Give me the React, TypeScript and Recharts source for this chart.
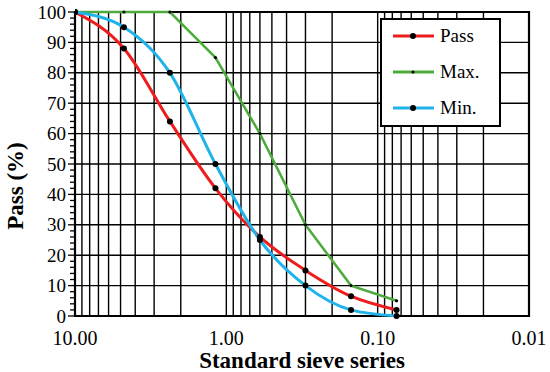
import React from 'react';
import {
  LineChart,
  Line,
  XAxis,
  YAxis,
  CartesianGrid,
  ReferenceArea,
  Legend,
  Label,
} from 'recharts';

// sieve opening (mm) and % passing
const sieveSizes = [10, 4.75, 2.36, 1.18, 0.6, 0.3, 0.15, 0.075];
const passValues = [100, 88, 64, 42, 26, 15, 6.5, 2];
const maxValues = [100, 100, 100, 85, 60, 30, 10, 5];
const minValues = [100, 95, 80, 50, 25, 10, 2, 0];

const decadeTicks = [10, 1, 0.1, 0.01];
const minorMultipliers = [9, 8, 7, 6, 5, 4, 3, 2];
const yTicks = [0, 10, 20, 30, 40, 50, 60, 70, 80, 90, 100];
const yMinorTicks = Array.from({ length: 51 }, (_, i) => i * 2);

const RED = '#ee1d1d';
const GREEN = '#4dab3c';
const CYAN = '#1fb3ea';
const FONT = '"Liberation Serif", "Times New Roman", serif';

const data = sieveSizes.map((size, i) => ({
  size,
  pass: passValues[i],
  max: maxValues[i],
  min: minValues[i],
}));

// every log gridline: decades plus 2..9 inside each decade
const xTicks: number[] = [];
decadeTicks.forEach((d, i) => {
  xTicks.push(d);
  if (i < decadeTicks.length - 1) {
    minorMultipliers.forEach((m) => xTicks.push(+(m * d * 0.1).toPrecision(6)));
  }
});

function isDecade(v: number): boolean {
  const l = Math.log10(v);
  return Math.abs(l - Math.round(l)) < 1e-9;
}

function YTick(props: any) {
  const { x, y, payload } = props;
  const v = payload.value as number;
  const major = v % 10 === 0;
  return (
    <g>
      <line x1={x - (major ? 7 : 5)} x2={x} y1={y} y2={y} stroke="#000" strokeWidth={1.3} />
      {major && (
        <text
          x={x - 9}
          y={y}
          dy="0.35em"
          textAnchor="end"
          fill="#000"
          fontSize={19}
          fontFamily={FONT}
        >
          {v}
        </text>
      )}
    </g>
  );
}

const legendItems = [
  { name: 'Pass', color: RED, r: 3 },
  { name: 'Max.', color: GREEN, r: 1.6 },
  { name: 'Min.', color: CYAN, r: 3 },
];

function LegendBox() {
  return (
    <svg width={121} height={109} style={{ display: 'block' }}>
      <rect x={1} y={1} width={119} height={107} fill="#fff" stroke="#000" strokeWidth={2} />
      {legendItems.map((it, i) => {
        const cy = 18 + i * 36;
        return (
          <g key={it.name}>
            <line x1={13} x2={54} y1={cy} y2={cy} stroke={it.color} strokeWidth={3} />
            <circle cx={33} cy={cy} r={it.r} fill="#000" />
            <text x={60} y={cy} dy="0.3em" fontSize={19} fontFamily={FONT} fill="#000">
              {it.name}
            </text>
          </g>
        );
      })}
    </svg>
  );
}

export default function App() {
  return (
    <div style={{ position: 'absolute', left: 0, top: 0, width: 550, height: 372, background: '#fff' }}>
      <LineChart width={550} height={372} data={data} margin={{ top: 12, right: 21, bottom: 0, left: 0 }}>
        <CartesianGrid stroke="#000" strokeWidth={1.4} horizontalValues={yTicks} />
        <XAxis
          dataKey="size"
          type="number"
          scale="log"
          domain={[0.01, 10]}
          reversed
          allowDataOverflow
          ticks={xTicks}
          interval={0}
          tickFormatter={(v: number) => (isDecade(v) ? v.toFixed(2) : '')}
          tickLine={false}
          axisLine={false}
          tickMargin={9}
          height={56}
          tick={{ fill: '#000', fontSize: 20, fontFamily: FONT }}
        >
          <Label
            value="Standard sieve series"
            position="insideBottom"
            offset={4}
            style={{ fontSize: 23, fontWeight: 'bold', fontFamily: FONT, fill: '#000' }}
          />
        </XAxis>
        <YAxis
          type="number"
          domain={[0, 100]}
          ticks={yMinorTicks}
          interval={0}
          tick={<YTick />}
          tickLine={false}
          tickSize={0}
          tickMargin={0}
          axisLine={false}
          width={75}
        >
          <Label
            content={() => (
              <text
                x={23}
                y={186}
                transform="rotate(-90 23 186)"
                textAnchor="middle"
                fontSize={23}
                fontWeight="bold"
                fontFamily={FONT}
                fill="#000"
              >
                Pass (%)
              </text>
            )}
          />
        </YAxis>
        <ReferenceArea x1={10} x2={0.01} y1={0} y2={100} fill="none" stroke="#000" strokeWidth={2.2} />
        <Line
          type="monotone"
          dataKey="pass"
          stroke={RED}
          strokeWidth={3}
          dot={{ r: 3, fill: '#000', stroke: 'none' }}
          isAnimationActive={false}
        />
        <Line
          type="linear"
          dataKey="max"
          stroke={GREEN}
          strokeWidth={2.5}
          dot={{ r: 1.6, fill: '#000', stroke: 'none' }}
          isAnimationActive={false}
        />
        <Line
          type="monotone"
          dataKey="min"
          stroke={CYAN}
          strokeWidth={3}
          dot={{ r: 3, fill: '#000', stroke: 'none' }}
          isAnimationActive={false}
        />
        <Legend
          layout="vertical"
          align="center"
          verticalAlign="middle"
          content={() => <LegendBox />}
          wrapperStyle={{ left: 380, top: 18, width: 121, height: 109 }}
        />
      </LineChart>
    </div>
  );
}
